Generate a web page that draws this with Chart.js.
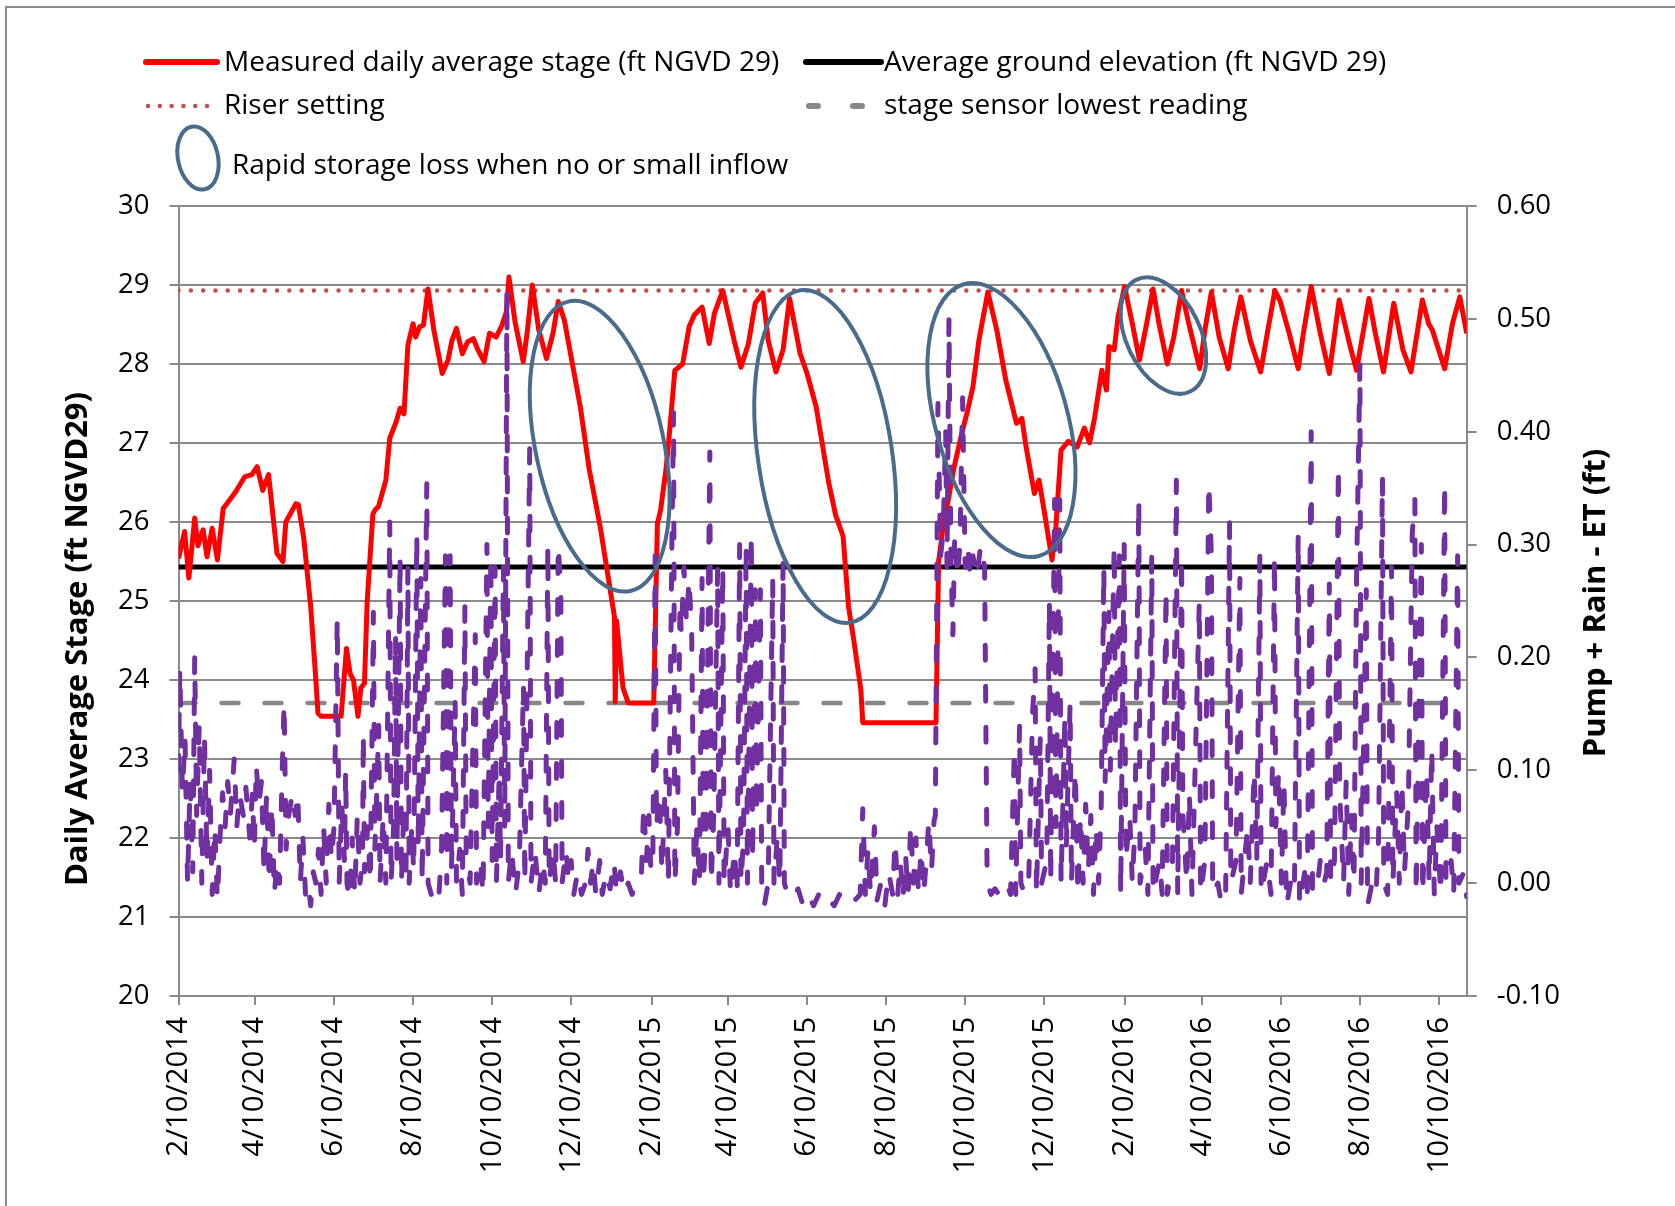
<!DOCTYPE html>
<html>
<head>
<meta charset="utf-8">
<script src="https://cdn.jsdelivr.net/npm/chart.js@4.4.1/dist/chart.umd.min.js"></script>
<style>
  html, body { margin: 0; padding: 0; background: #fff; }
  canvas { display: block; }
</style>
</head>
<body>
<canvas id="grafico" width="1675" height="1206"></canvas>
<script>
// x values are days counted from 2/10/2014
const tickDays = [0, 59, 120, 181, 242, 303, 365, 424, 485, 546, 607, 668, 730, 790, 851, 912, 973];
const tickLabels = ['2/10/2014', '4/10/2014', '6/10/2014', '8/10/2014', '10/10/2014', '12/10/2014',
    '2/10/2015', '4/10/2015', '6/10/2015', '8/10/2015', '10/10/2015', '12/10/2015',
    '2/10/2016', '4/10/2016', '6/10/2016', '8/10/2016', '10/10/2016'];
const lastDay = 994;

const groundElev = 25.43;
const riserLevel = 28.93;
const sensorLow = 23.71;

// measured daily average stage [day, ft]
const stagePoints = [
    [0, 25.54], [4.7, 25.88], [8, 25.29], [12.5, 26.05], [15, 25.7], [19, 25.9], [22, 25.56], [26, 25.92],
    [30, 25.52], [34.5, 26.17], [38.6, 26.26], [44, 26.38], [51, 26.57], [56.6, 26.6], [60.7, 26.7], [65, 26.4],
    [69.5, 26.6], [76, 25.6], [80.6, 25.5], [82.8, 26.0], [90.5, 26.23], [92.5, 26.22], [96.6, 25.8], [102, 24.93],
    [106, 24.0], [107.6, 23.58], [110, 23.54], [125.5, 23.54], [129.6, 24.4], [132.4, 24.08], [135, 24.0],
    [138.5, 23.54], [140.7, 23.9], [143.5, 23.96], [145.6, 25.0], [150, 26.1], [151.6, 26.15], [154.4, 26.2],
    [160, 26.53], [163, 27.06], [168, 27.27], [171, 27.44], [174, 27.37], [177, 28.24], [181, 28.51], [183, 28.34],
    [186, 28.47], [189, 28.49], [192.5, 28.95], [197, 28.43], [203.5, 27.88], [208, 28.05], [211, 28.3],
    [214.5, 28.45], [219, 28.13], [223, 28.28], [227.5, 28.32], [231, 28.18], [235.8, 28.03], [240, 28.39],
    [245, 28.34], [249.6, 28.49], [253, 28.66], [255, 29.1], [259.7, 28.53], [266, 28.03], [269, 28.39],
    [273, 29.0], [278, 28.43], [284, 28.07], [289, 28.39], [293, 28.79], [297.8, 28.55], [310, 27.46],
    [317, 26.66], [325.4, 25.94], [336.4, 24.8], [337, 23.72], [338, 24.75], [343, 23.9], [347, 23.71],
    [366.7, 23.71], [369.5, 25.98], [372, 26.15], [376.4, 26.7], [379, 27.16], [383, 27.92], [389, 28.0],
    [394, 28.47], [398, 28.62], [404, 28.72], [409.5, 28.26], [413.5, 28.64], [420, 28.93], [428.7, 28.3],
    [434, 27.96], [439.8, 28.26], [445, 28.77], [450.8, 28.9], [455, 28.3], [461, 27.9], [466.5, 28.18],
    [471.5, 28.83], [479.7, 28.13], [485, 27.88], [492, 27.46], [501.8, 26.49], [507, 26.09], [512.8, 25.82],
    [517, 24.93], [521, 24.51], [526.5, 23.88], [528, 23.46], [584.5, 23.46], [586.5, 25.5], [590, 25.94],
    [594, 26.28], [598, 26.66], [603.8, 27.08], [609, 27.42], [613, 27.71], [617.6, 28.3], [624.5, 28.91],
    [631.4, 28.43], [638.3, 27.8], [646.6, 27.25], [650.8, 27.31], [653.5, 27.0], [660.4, 26.36], [664, 26.53],
    [668.7, 26.07], [674, 25.52], [677, 25.94], [681, 26.91], [686.6, 27.02], [693.5, 26.95], [699, 27.19],
    [703, 27.0], [707, 27.33], [712.5, 27.92], [716, 27.67], [718, 28.22], [722, 28.18], [725, 28.6],
    [730, 28.98], [736, 28.51], [741.5, 28.05], [747, 28.51], [752, 28.95], [756.6, 28.51], [763, 28.0],
    [768, 28.34], [774, 28.93], [779, 28.55], [788, 27.94], [792, 28.43], [797, 28.91], [803, 28.34],
    [810, 27.94], [814.6, 28.43], [819.7, 28.85], [827, 28.3], [835, 27.9], [841, 28.47], [846, 28.93],
    [850, 28.8], [857, 28.39], [864, 27.94], [868, 28.39], [874, 28.98], [881, 28.39], [888, 27.88],
    [895.6, 28.81], [903.5, 28.26], [909, 27.92], [918.6, 28.83], [923.5, 28.39], [929.8, 27.9], [937.7, 28.77],
    [944.8, 28.18], [951, 27.9], [959.8, 28.81], [964.6, 28.51], [967.5, 28.43], [977, 27.94], [983, 28.51],
    [988.7, 28.85], [994, 28.39]
];

// pump + rain - ET [day, ft]
const flowPoints = [
    [0, 0.10], [1, 0.19], [3, 0.08], [5, 0.13], [7, 0.00], [9, 0.09], [11, 0.01], [12.5, 0.20], [14, 0.06],
    [16, 0.14], [18, 0.0], [20, 0.13], [22, 0.02], [24, 0.10], [26, -0.01], [28, 0.05], [30, -0.015], [32, 0.04],
    [34, 0.08], [36, 0.05], [38, 0.09], [40, 0.06], [43, 0.11], [45, 0.05], [47, 0.08], [50, 0.06], [52, 0.085],
    [55, 0.04], [57, 0.08], [58.5, 0.03], [60, 0.105], [62, 0.07], [64, 0.09], [66, 0.01], [68, 0.08], [70, 0.0],
    [72, 0.07], [74, -0.01], [76, 0.02], [78, 0.0], [80, 0.10], [81.5, 0.16], [83, 0.03], [85, 0.06], [88, 0.08],
    [90, 0.06], [92, 0.08], [94, 0.0], [96, 0.04], [98, -0.01], [100, 0.0], [102, -0.02], [104, 0.01], [106, 0.0],
    [108, 0.03], [110, -0.01], [112, 0.05], [114, 0.0], [116, 0.07], [118, 0.02], [120, 0.05], [122.5, 0.235],
    [124, 0.0], [126, 0.07], [128, 0.02], [129, 0.10], [130, 0.0], [132, -0.015], [134, 0.04], [136, -0.01],
    [138, 0.06], [140, 0.0], [142, 0.02], [142.6, 0.133], [143.5, 0.01], [146, 0.05], [148, 0.0], [150.4, 0.24],
    [151.5, 0.03], [153, 0.08], [154.5, 0.14], [155.5, 0.0], [158, 0.06], [160, 0.0], [163, 0.32], [164, 0.0],
    [166, 0.05], [167.5, 0.22], [168.5, 0.02], [171, 0.29], [172, 0.0], [174, 0.07], [175.5, 0.0], [177, 0.28],
    [178, 0.0], [180, 0.05], [181.5, 0.01], [183.9, 0.31], [185, 0.03], [187, 0.27], [188, 0.0], [191.6, 0.354],
    [192.6, 0.0], [195, -0.01], [198, 0.0], [201, -0.01], [203, 0.03], [206, 0.29], [207, 0.0], [209.6, 0.29],
    [210.6, 0.01], [213.5, 0.16], [214.5, 0.0], [217, 0.03], [219, -0.01], [221, 0.245], [222, 0.02], [225, 0.0],
    [226, 0.06], [229, 0.22], [230, 0.0], [233, 0.02], [235, -0.01], [238, 0.30], [239, 0.05], [241, 0.29],
    [242, 0.02], [244.3, 0.28], [245.3, 0.0], [247.5, 0.1], [248.5, 0.02], [250.7, 0.28], [251.7, 0.05],
    [253.4, 0.525], [254.5, 0.0], [257, 0.03], [260, -0.01], [263, 0.02], [266.2, 0.175], [267.2, 0.0],
    [271, 0.385], [272, 0.0], [275, 0.03], [278, -0.01], [281, 0.02], [283, 0.0], [285, 0.30], [286, 0.0],
    [289, 0.03], [291, 0.0], [293, 0.30], [295, 0.26], [296, 0.0], [298, 0.02], [299, 0.03],
    [301, 0.0], [303, 0.02], [305, -0.01], [308, 0.01], [311, -0.01], [314, 0.0], [316, 0.03], [318, 0.0],
    [320, 0.02], [322, -0.01], [325, 0.02], [327, -0.01], [330, 0.01], [333, -0.005], [336, 0.02], [338, -0.01],
    [341, 0.01], [344, -0.01], [347, 0.0], [350, -0.01], [353, 0.0], [357, 0.0], [359, 0.07], [361, 0.02],
    [363, 0.06], [364.5, 0.01], [366, 0.02], [367.8, 0.29], [368.8, 0.05], [371, 0.08], [373, 0.01], [376, 0.10],
    [378, 0.0], [380.7, 0.30], [382, 0.417], [383, 0.0], [385, 0.05], [387, 0.25], [388, 0.22], [390, 0.28],
    [392, 0.23], [394, 0.27], [396, 0.22], [398, 0.0], [400, 0.05], [402, 0.0], [404, 0.27], [405, 0.0],
    [407, 0.05], [410, 0.382], [411, 0.0], [413, 0.06], [416, 0.28], [417, 0.0], [420, 0.28], [421, 0.0],
    [424, 0.05], [426, -0.01], [429, 0.03], [431, -0.01], [433, 0.30], [434, 0.0], [436, 0.04], [438, 0.30],
    [439, 0.0], [442, 0.31], [443, 0.02], [445, 0.26], [446, 0.06], [449, 0.26], [450, 0.0], [452, -0.02],
    [455, 0.0], [458.5, 0.27], [459.5, 0.0], [462, 0.04], [464, 0.0], [466.5, 0.285], [467.5, 0.0],
    [470, -0.01], [474, -0.015], [478, -0.005],
    [482, -0.02], [486, -0.01], [490, -0.02], [494, -0.01], [498, -0.02], [502, -0.015], [506, -0.02],
    [510, -0.01], [514, -0.02], [518, -0.02], [522, -0.015], [526, -0.01], [528, 0.066], [530, -0.01],
    [532, 0.03], [534, -0.01], [537, 0.05], [539, -0.015], [542, 0.0], [545, -0.02], [548, 0.01], [551, -0.01],
    [553, 0.038], [555, -0.01], [557, 0.02], [559, -0.015], [561, 0.025], [563, -0.01], [565, 0.053], [567, 0.0],
    [569, 0.04], [571, -0.01], [573, 0.03], [575, -0.01], [577, 0.02], [579, 0.056], [581, 0.01], [583, 0.055],
    [584, 0.06], [586, 0.425], [588, 0.29], [590, 0.31], [592, 0.40], [593, 0.28], [594.5, 0.50], [596, 0.29],
    [597.5, 0.22], [599, 0.31], [601, 0.27], [603, 0.30], [605, 0.43], [607, 0.28], [609, 0.30], [611, 0.27],
    [613, 0.29], [616, 0.27], [619, 0.30], [622, 0.28], [624, 0.0], [627, -0.01], [630, -0.005], [633, -0.01],
    [636, -0.01], [639, 0.0], [642, -0.01], [645, 0.12], [646, -0.01], [649, 0.14], [650, 0.0], [653, -0.01],
    [656, 0.0], [659, 0.15], [661, 0.19], [662, -0.01], [665, 0.13], [666, 0.0], [670, 0.02], [672, 0.25],
    [673, 0.0], [676, 0.34], [677, 0.05], [680, 0.34], [681, 0.0], [684, 0.15], [685, 0.03], [688, 0.16],
    [689, 0.0], [692, 0.10], [694, -0.01], [696, 0.06], [698, 0.0], [700, 0.07], [702, 0.01], [704, 0.06],
    [706, -0.01], [708, 0.05], [710, 0.0], [712, 0.07], [714, 0.28], [715, 0.09], [718, 0.24], [719, 0.10],
    [722, 0.30], [723, 0.12], [726, 0.29], [727, -0.01], [729.7, 0.30], [731, 0.02], [734, 0.06], [736, 0.0],
    [738, 0.05], [741, 0.34], [742, 0.0], [746, 0.03], [748, -0.01], [751, 0.29], [752, -0.01], [757, 0.02],
    [759, -0.01], [762, 0.26], [763, -0.01], [767, 0.02], [770, 0.357], [771, -0.01], [774, 0.29], [775, 0.06],
    [778, 0.0], [780, 0.08], [782, -0.01], [787.7, 0.25], [788.7, -0.01], [792, 0.02], [795, 0.355], [797, 0.29],
    [798, -0.01], [802, 0.0], [805, -0.02], [808, -0.01], [811, 0.32], [812, 0.0], [816, 0.02], [819, 0.27],
    [820, -0.01], [825, 0.05], [827, 0.0], [830, 0.10], [832, 0.02], [834.4, 0.29], [835.4, -0.01], [840, 0.02],
    [843, -0.01], [845.7, 0.29], [846.7, 0.05], [849, 0.10], [851, 0.0], [853, 0.09], [855, -0.02], [858, 0.0],
    [861, -0.01], [864, 0.31], [865, -0.02], [869, 0.01], [871, -0.01], [874, 0.40], [875, -0.01], [879, 0.0],
    [881, 0.02], [884, 0.0], [886, 0.01], [888, 0.265], [889, 0.0], [892, 0.02], [895, 0.37], [896, 0.08],
    [899, 0.0], [901, 0.09], [903, -0.01], [905, 0.06], [907, 0.0], [909, 0.27], [911.6, 0.46], [912.6, 0.0],
    [916.5, 0.26], [917.5, -0.02], [921, 0.0], [924, -0.01], [926, 0.04], [929, 0.36], [930, 0.0], [933, -0.01],
    [936, 0.28], [937, 0.0], [940, 0.08], [942, 0.0], [944, 0.09], [946, 0.01], [949, 0.07], [952, 0.31],
    [954, 0.34], [955, -0.01], [959, 0.30], [960, -0.01], [963, 0.10], [965, 0.0], [967, 0.12], [969, -0.01],
    [971, 0.05], [974, -0.01], [977, 0.355], [978, 0.0], [982, 0.02], [984, -0.01], [987, 0.29], [988, 0.0],
    [992, 0.01], [994, -0.012]
];

// ovals marking rapid storage loss, centred at [day, stage]
const lossOvals = [
    { day: 325, stage: 26.96, rx: 64, ry: 148, tilt: -12 },
    { day: 499, stage: 26.83, rx: 67, ry: 168, tilt: -8.5 },
    { day: 635, stage: 27.29, rx: 66, ry: 141, tilt: -15.5 },
    { day: 760, stage: 28.36, rx: 37, ry: 62, tilt: -25.6 }
];

const FONT = '"Open Sans"';
const GRID = '#8a8a8a';
const OVAL = '#4a6b8c';

function flat(v) {
    return [{ x: 0, y: v }, { x: lastDay, y: v }];
}

function pts(list) {
    return list.map(function(p) { return { x: p[0], y: p[1] }; });
}

const datasets = [
    {
        label: 'Pump + Rain - ET',
        data: pts(flowPoints),
        yAxisID: 'y2',
        borderColor: '#7030a0',
        borderWidth: 5,
        borderDash: [15, 26],
        borderCapStyle: 'round',
        borderJoinStyle: 'round',
        order: 0
    },
    {
        label: 'Measured daily average stage (ft NGVD 29)',
        data: pts(stagePoints),
        yAxisID: 'y',
        borderColor: '#ff0000',
        borderWidth: 5,
        borderJoinStyle: 'round',
        order: 1,
        legend: 'solid'
    },
    {
        label: 'Average ground elevation (ft NGVD 29)',
        data: flat(groundElev),
        yAxisID: 'y',
        borderColor: '#000000',
        borderWidth: 5,
        order: 2,
        legend: 'solid'
    },
    {
        label: 'stage sensor lowest reading',
        data: flat(sensorLow),
        yAxisID: 'y',
        borderColor: '#878787',
        borderWidth: 4.5,
        borderDash: [17, 26],
        borderCapStyle: 'round',
        order: 3,
        legend: 'dash'
    },
    {
        label: 'Riser setting',
        data: flat(riserLevel),
        yAxisID: 'y',
        borderColor: '#c0504d',
        borderWidth: 4.5,
        borderDash: [0.01, 12.3],
        borderCapStyle: 'round',
        order: 4,
        legend: 'dot'
    }
];

datasets.forEach(function(d) {
    d.pointRadius = 0;
    d.tension = 0;
    d.fill = false;
});

function drawSample(ctx, ds, x0, x1, y) {
    ctx.save();
    ctx.strokeStyle = ds.borderColor;
    ctx.lineCap = 'round';
    ctx.beginPath();
    if (ds.legend === 'solid') {
        ctx.lineWidth = 6;
        ctx.moveTo(x0, y);
        ctx.lineTo(x1, y);
    } else if (ds.legend === 'dot') {
        ctx.lineWidth = 4.5;
        ctx.setLineDash([0.01, 11.8]);
        ctx.moveTo(x0 + 2, y);
        ctx.lineTo(x1, y);
    } else {
        ctx.lineWidth = 6;
        ctx.setLineDash([9, 35]);
        ctx.moveTo(x0 + 3, y);
        ctx.lineTo(x1, y);
    }
    ctx.stroke();
    ctx.restore();
}

const decor = {
    id: 'decor',
    afterDatasetsDraw(chart) {
        const ctx = chart.ctx;
        const xs = chart.scales.x;
        const ys = chart.scales.y;
        ctx.save();
        ctx.strokeStyle = OVAL;
        ctx.lineWidth = 4;
        lossOvals.forEach(function(o) {
            ctx.beginPath();
            ctx.ellipse(xs.getPixelForValue(o.day), ys.getPixelForValue(o.stage),
                o.rx, o.ry, o.tilt * Math.PI / 180, 0, 2 * Math.PI);
            ctx.stroke();
        });
        ctx.restore();
    },
    afterDraw(chart) {
        const ctx = chart.ctx;
        const byLabel = {};
        chart.data.datasets.forEach(function(d) { byLabel[d.label] = d; });

        // outer frame (top and left edges are visible in the original)
        ctx.save();
        ctx.strokeStyle = '#8c8c8c';
        ctx.lineWidth = 2;
        ctx.beginPath();
        ctx.moveTo(6, 1206);
        ctx.lineTo(6, 7);
        ctx.lineTo(1675, 7);
        ctx.stroke();

        // legend
        const rows = [
            ['Measured daily average stage (ft NGVD 29)', 146, 217, 224, 62, 71],
            ['Average ground elevation (ft NGVD 29)', 806, 881, 884, 62, 71],
            ['Riser setting', 146, 217, 224, 106, 114],
            ['stage sensor lowest reading', 806, 870, 884, 106, 114]
        ];
        ctx.font = '28px ' + FONT;
        ctx.fillStyle = '#000';
        ctx.textBaseline = 'alphabetic';
        ctx.textAlign = 'left';
        rows.forEach(function(r) {
            drawSample(ctx, byLabel[r[0]], r[1], r[2], r[4]);
            ctx.fillText(r[0], r[3], r[5]);
        });
        ctx.strokeStyle = OVAL;
        ctx.lineWidth = 4;
        ctx.beginPath();
        ctx.ellipse(198, 158, 20, 32, -12 * Math.PI / 180, 0, 2 * Math.PI);
        ctx.stroke();
        ctx.fillText('Rapid storage loss when no or small inflow', 232, 174);

        // axis titles
        ctx.font = 'bold 31px ' + FONT;
        ctx.textAlign = 'center';
        ctx.textBaseline = 'middle';
        ctx.translate(78, 639);
        ctx.rotate(-Math.PI / 2);
        ctx.fillText('Daily Average Stage (ft NGVD29)', 0, 0);
        ctx.setTransform(1, 0, 0, 1, 0, 0);
        ctx.translate(1596, 603);
        ctx.rotate(-Math.PI / 2);
        ctx.fillText('Pump + Rain - ET (ft)', 0, 0);
        ctx.restore();
    }
};

const tickFont = { family: FONT, size: 27.5 };

new Chart(document.getElementById('grafico'), {
    type: 'line',
    data: { datasets: datasets },
    plugins: [decor],
    options: {
        responsive: false,
        animation: false,
        devicePixelRatio: 1,
        layout: { padding: { top: 206, left: 0, right: 0, bottom: 0 } },
        plugins: {
            legend: { display: false },
            tooltip: { enabled: false }
        },
        scales: {
            x: {
                type: 'linear',
                min: 0,
                max: lastDay,
                afterFit: function(s) { s.height = 210; },
                afterBuildTicks: function(s) {
                    s.ticks = tickDays.map(function(v) { return { value: v }; });
                },
                ticks: {
                    autoSkip: false,
                    minRotation: 90,
                    maxRotation: 90,
                    padding: 12,
                    color: '#000',
                    font: { family: FONT, size: 29.5 },
                    callback: function(v, i) { return tickLabels[i]; }
                },
                grid: { drawOnChartArea: false, tickLength: 9, color: GRID, lineWidth: 2 },
                border: { color: GRID, width: 2 }
            },
            y: {
                position: 'left',
                min: 20,
                max: 30,
                afterFit: function(s) { s.width = 178.5; },
                ticks: { stepSize: 1, padding: 20, color: '#000', font: tickFont },
                grid: { color: GRID, lineWidth: 2, tickLength: 9 },
                border: { color: GRID, width: 2 }
            },
            y2: {
                position: 'right',
                min: -0.1,
                max: 0.6,
                afterFit: function(s) { s.width = 208.3; },
                ticks: {
                    stepSize: 0.1,
                    padding: 20,
                    color: '#000',
                    font: tickFont,
                    callback: function(v) { return (Math.round(v * 100) / 100 + 0).toFixed(2); }
                },
                grid: { drawOnChartArea: false, tickLength: 10, color: GRID, lineWidth: 2 },
                border: { color: GRID, width: 2 }
            }
        }
    }
});
</script>
</body>
</html>
